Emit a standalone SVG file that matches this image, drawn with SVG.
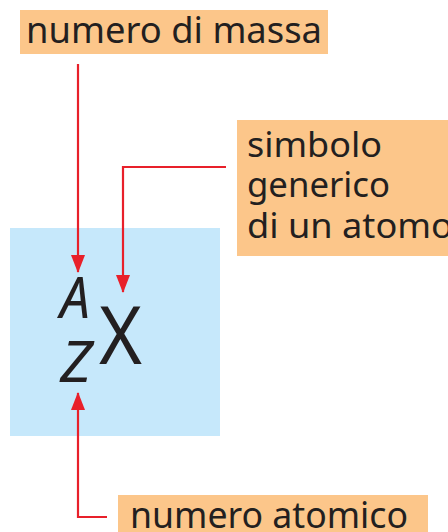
<svg xmlns="http://www.w3.org/2000/svg" width="448" height="532" viewBox="0 0 448 532">
  <style>
    .lbl { fill: #fcc68a; }
    .t { font-family: "Noto Sans", "Open Sans", sans-serif; font-size: 36px; fill: #231f20; }
    .t2 { font-family: "Noto Sans", "Open Sans", sans-serif; font-size: 34px; fill: #231f20; }
    .sym { font-family: "Noto Sans", "Open Sans", sans-serif; fill: #231f20; }
    .con { fill: none; stroke: #e8202a; stroke-width: 2.2; }
  </style>
  <defs>
    <marker id="ah" viewBox="0 0 18 14" refX="17" refY="7" markerWidth="18" markerHeight="14" markerUnits="userSpaceOnUse" orient="auto">
      <path d="M0,0 L18,7 L0,14 Z" fill="#e8202a"/>
    </marker>
  </defs>
  <rect id="box" x="10" y="228" width="210" height="208" fill="#c6e8fb"/>
  <g id="numero-di-massa">
    <rect class="lbl" x="20" y="10" width="308" height="44"/>
    <text class="t" x="26" y="43" textLength="296" lengthAdjust="spacingAndGlyphs">numero di massa</text>
  </g>
  <g id="simbolo">
    <rect class="lbl" x="237" y="120" width="211" height="136"/>
    <text class="t2" x="247" y="157" textLength="135" lengthAdjust="spacingAndGlyphs">simbolo</text>
    <text class="t2" x="247" y="197" textLength="143" lengthAdjust="spacingAndGlyphs">generico</text>
    <text class="t2" x="247" y="238" textLength="206" lengthAdjust="spacingAndGlyphs">di un atomo</text>
  </g>
  <g id="numero-atomico">
    <rect class="lbl" x="118" y="495" width="310" height="37"/>
    <text class="t" x="130" y="528" textLength="278" lengthAdjust="spacingAndGlyphs">numero atomico</text>
  </g>
  <g id="isotope">
    <text class="sym" x="60" y="318" font-size="56" font-style="italic" textLength="30" lengthAdjust="spacingAndGlyphs">A</text>
    <text class="sym" x="60" y="382" font-size="56" font-style="italic" textLength="32" lengthAdjust="spacingAndGlyphs">Z</text>
    <text class="sym" x="99" y="364" font-size="80" textLength="43" lengthAdjust="spacingAndGlyphs">X</text>
  </g>
  <g id="connectors">
    <path class="con" d="M78,64 V272" marker-end="url(#ah)"/>
    <path class="con" d="M226,167 H123 V292" marker-end="url(#ah)"/>
    <path class="con" d="M107,517 H78 V393" marker-end="url(#ah)"/>
  </g>
</svg>
